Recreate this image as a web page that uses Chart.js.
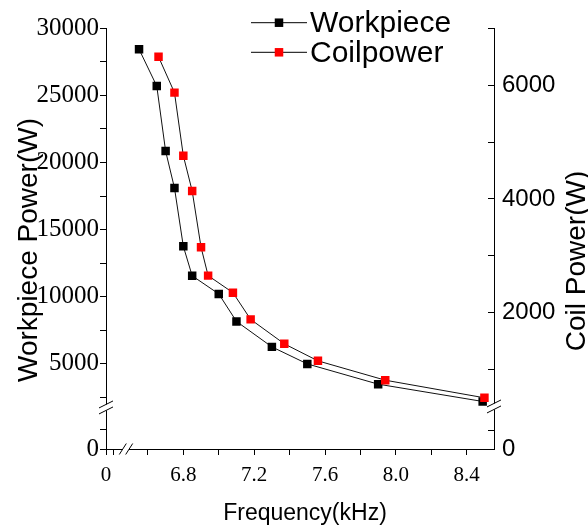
<!DOCTYPE html>
<html>
<head>
<meta charset="utf-8">
<title>Workpiece and coil power vs frequency</title>
<script src="https://cdn.jsdelivr.net/npm/chart.js@4.4.1/dist/chart.umd.min.js"></script>
<style>
  html, body { margin: 0; padding: 0; background: #fff; }
  canvas { display: block; }
</style>
</head>
<body>
<canvas id="powerChart" width="588" height="531"></canvas>
<script>
// Workpiece power (left axis)
const workFreq = [6.55, 6.65, 6.70, 6.75, 6.80, 6.85, 7.00, 7.10, 7.30, 7.50, 7.90, 8.49];
const workPower = [28450, 25700, 20850, 18100, 13750, 11550, 10200, 8150, 6250, 4980, 3470, 2180];

// Coil power (right axis)
const coilFreq = [6.66, 6.75, 6.80, 6.85, 6.90, 6.94, 7.08, 7.18, 7.37, 7.56, 7.94, 8.50];
const coilPower = [6500, 5870, 4760, 4140, 3150, 2650, 2350, 1880, 1450, 1150, 810, 500];

// Tick values
const xMajor = [6.8, 7.2, 7.6, 8.0, 8.4];
const xMinor = [6.6, 7.0, 7.4, 7.8, 8.2];
const yMajor = [5000, 10000, 15000, 20000, 25000, 30000];
const yMinor = [2500, 7500, 12500, 17500, 22500, 27500];
const y2Major = [2000, 4000, 6000];
const y2Minor = [1000, 3000, 5000, 7000];

const serif = 'Liberation Serif';
const sans = 'Liberation Sans';

const toPoints = (xs, ys) => xs.map((x, i) => ({ x, y: ys[i] }));
const isIn = (list, v) => list.some(m => Math.abs(m - v) < 1e-6);
const setTicks = list => scale => {
    scale.ticks = list.slice().sort((a, b) => a - b).map(v => ({ value: v }));
};

function axis(extra) {
    const base = {
        type: 'linear',
        border: { display: true, color: '#000', width: 1 },
        grid: { drawOnChartArea: false, drawTicks: true, tickLength: 6, tickColor: '#000', tickWidth: 1 },
        ticks: { color: '#000', autoSkip: false, maxRotation: 0 }
    };
    const out = Object.assign({}, base, extra);
    out.grid = Object.assign({}, base.grid, extra.grid || {});
    out.ticks = Object.assign({}, base.ticks, extra.ticks || {});
    return out;
}

const leftFit = s => { s.width = 106; };
const rightFit = s => { s.width = 94; };
const bottomFit = s => { s.height = 82; };

// break marks on the axes + gap in the axis line
const axisBreaks = {
    id: 'axisBreaks',
    afterDraw(chart) {
        const { ctx, scales } = chart;
        ctx.save();
        ctx.lineWidth = 1;
        ctx.strokeStyle = '#000';
        const line = (x1, y1, x2, y2) => {
            ctx.beginPath(); ctx.moveTo(x1, y1); ctx.lineTo(x2, y2); ctx.stroke();
        };
        // vertical axes
        [[scales.y.right, scales.y.bottom + 1], [scales.y2.left, scales.y2.bottom]].forEach(([ax, by]) => {
            ctx.fillStyle = '#fff';
            ctx.fillRect(ax - 2, by - 3, 4, 6);
            line(ax - 7, by - 3 + 3.5, ax + 7, by - 3 - 3.5);
            line(ax - 7, by + 3 + 3.5, ax + 7, by + 3 - 3.5);
        });
        // horizontal axis
        const bx = scales.x0.right - 1;
        const ay = scales.x.top;
        ctx.fillStyle = '#fff';
        ctx.fillRect(bx - 3, ay - 2, 6, 4);
        line(bx - 3.2 - 3.5, ay + 5.5, bx - 3.2 + 3.5, ay - 5.5);
        line(bx + 3.2 - 3.5, ay + 5.5, bx + 3.2 + 3.5, ay - 5.5);
        ctx.restore();
    }
};

// axis titles and the in-plot legend
const labelsPlugin = {
    id: 'labelsPlugin',
    afterDraw(chart) {
        const { ctx } = chart;
        ctx.save();
        ctx.fillStyle = '#000';
        ctx.textBaseline = 'alphabetic';
        ctx.textAlign = 'center';

        ctx.font = `28px "${sans}"`;
        ctx.save();
        ctx.translate(37, 250);
        ctx.rotate(-Math.PI / 2);
        ctx.fillText('Workpiece Power(W)', 0, 0);
        ctx.restore();

        ctx.save();
        ctx.translate(585, 261);
        ctx.rotate(-Math.PI / 2);
        ctx.fillText('Coil Power(W)', 0, 0);
        ctx.restore();

        ctx.font = `23px "${sans}"`;
        ctx.fillText('Frequency(kHz)', 305, 520);

        // legend
        const rows = [22.7, 52.3];
        const order = [0, 1];
        ctx.textAlign = 'left';
        ctx.font = `30px "${sans}"`;
        order.forEach((di, r) => {
            const ds = chart.data.datasets[di];
            const y = rows[r];
            ctx.strokeStyle = '#000';
            ctx.lineWidth = 1;
            ctx.beginPath(); ctx.moveTo(251, y); ctx.lineTo(307, y); ctx.stroke();
            ctx.fillStyle = ds.pointBackgroundColor;
            ctx.fillRect(279 - 4.25, y - 4.25, 8.5, 8.5);
            ctx.fillStyle = '#000';
            ctx.fillText(ds.label, 310, y + 9.5);
        });
        ctx.restore();
    }
};

new Chart(document.getElementById('powerChart'), {
    type: 'line',
    data: {
        datasets: [{
            label: 'Workpiece',
            data: toPoints(workFreq, workPower),
            xAxisID: 'x',
            yAxisID: 'y',
            order: 1,
            borderColor: '#111',
            borderWidth: 1,
            tension: 0,
            pointStyle: 'rect',
            pointRadius: 6,
            pointBorderWidth: 0,
            pointBackgroundColor: '#000000'
        }, {
            label: 'Coilpower',
            data: toPoints(coilFreq, coilPower),
            xAxisID: 'x',
            yAxisID: 'y2',
            order: 0,
            borderColor: '#111',
            borderWidth: 1,
            tension: 0,
            pointStyle: 'rect',
            pointRadius: 6,
            pointBorderWidth: 0,
            pointBackgroundColor: '#ff0000'
        }]
    },
    options: {
        responsive: false,
        devicePixelRatio: 1,
        animation: false,
        layout: { padding: { top: 24, left: 0, right: 0, bottom: 0 } },
        plugins: { legend: { display: false }, tooltip: { enabled: false } },
        scales: {
            x0: axis({
                position: 'bottom', stack: 'bottom', stackWeight: 21, weight: 1,
                min: 0, max: 0.6,
                afterBuildTicks: setTicks([0, 0.2]),
                afterFit: bottomFit,
                ticks: { padding: 8, font: { family: serif, size: 21 }, callback: v => v === 0 ? '0' : '' }
            }),
            x: axis({
                position: 'bottom', stack: 'bottom', stackWeight: 367, weight: 2,
                min: 6.482, max: 8.554,
                afterBuildTicks: setTicks(xMajor.concat(xMinor)),
                afterFit: bottomFit,
                ticks: { padding: 8, font: { family: serif, size: 21 }, callback: v => isIn(xMajor, v) ? v.toFixed(1) : '' }
            }),
            y: axis({
                position: 'left', stack: 'left', stackWeight: 382, weight: 2,
                min: 1808, max: 30000,
                afterBuildTicks: setTicks(yMajor.concat(yMinor)),
                afterFit: leftFit,
                ticks: { padding: 1, font: { family: serif, size: 25 }, callback: v => isIn(yMajor, v) ? String(v) : '' }
            }),
            y0: axis({
                position: 'left', stack: 'left', stackWeight: 43, weight: 1,
                min: 0, max: 2200,
                afterBuildTicks: setTicks([0, 1000]),
                afterFit: leftFit,
                ticks: { padding: 1, font: { family: serif, size: 25 }, callback: v => v === 0 ? '0' : '' }
            }),
            y2: axis({
                position: 'right', stack: 'right', stackWeight: 382, weight: 1,
                min: 348, max: 7000,
                afterBuildTicks: setTicks(y2Major.concat(y2Minor)),
                afterFit: rightFit,
                grid: { tickLength: -6 },
                ticks: { padding: 14, font: { family: sans, size: 24 }, callback: v => isIn(y2Major, v) ? String(v) : '' }
            }),
            y3: axis({
                position: 'right', stack: 'right', stackWeight: 43, weight: 2,
                min: 0, max: 450,
                afterBuildTicks: setTicks([0, 200]),
                afterFit: rightFit,
                grid: { tickLength: -6 },
                ticks: { padding: 14, font: { family: sans, size: 24 }, callback: v => v === 0 ? '0' : '' }
            })
        }
    },
    plugins: [axisBreaks, labelsPlugin]
});
</script>
</body>
</html>
